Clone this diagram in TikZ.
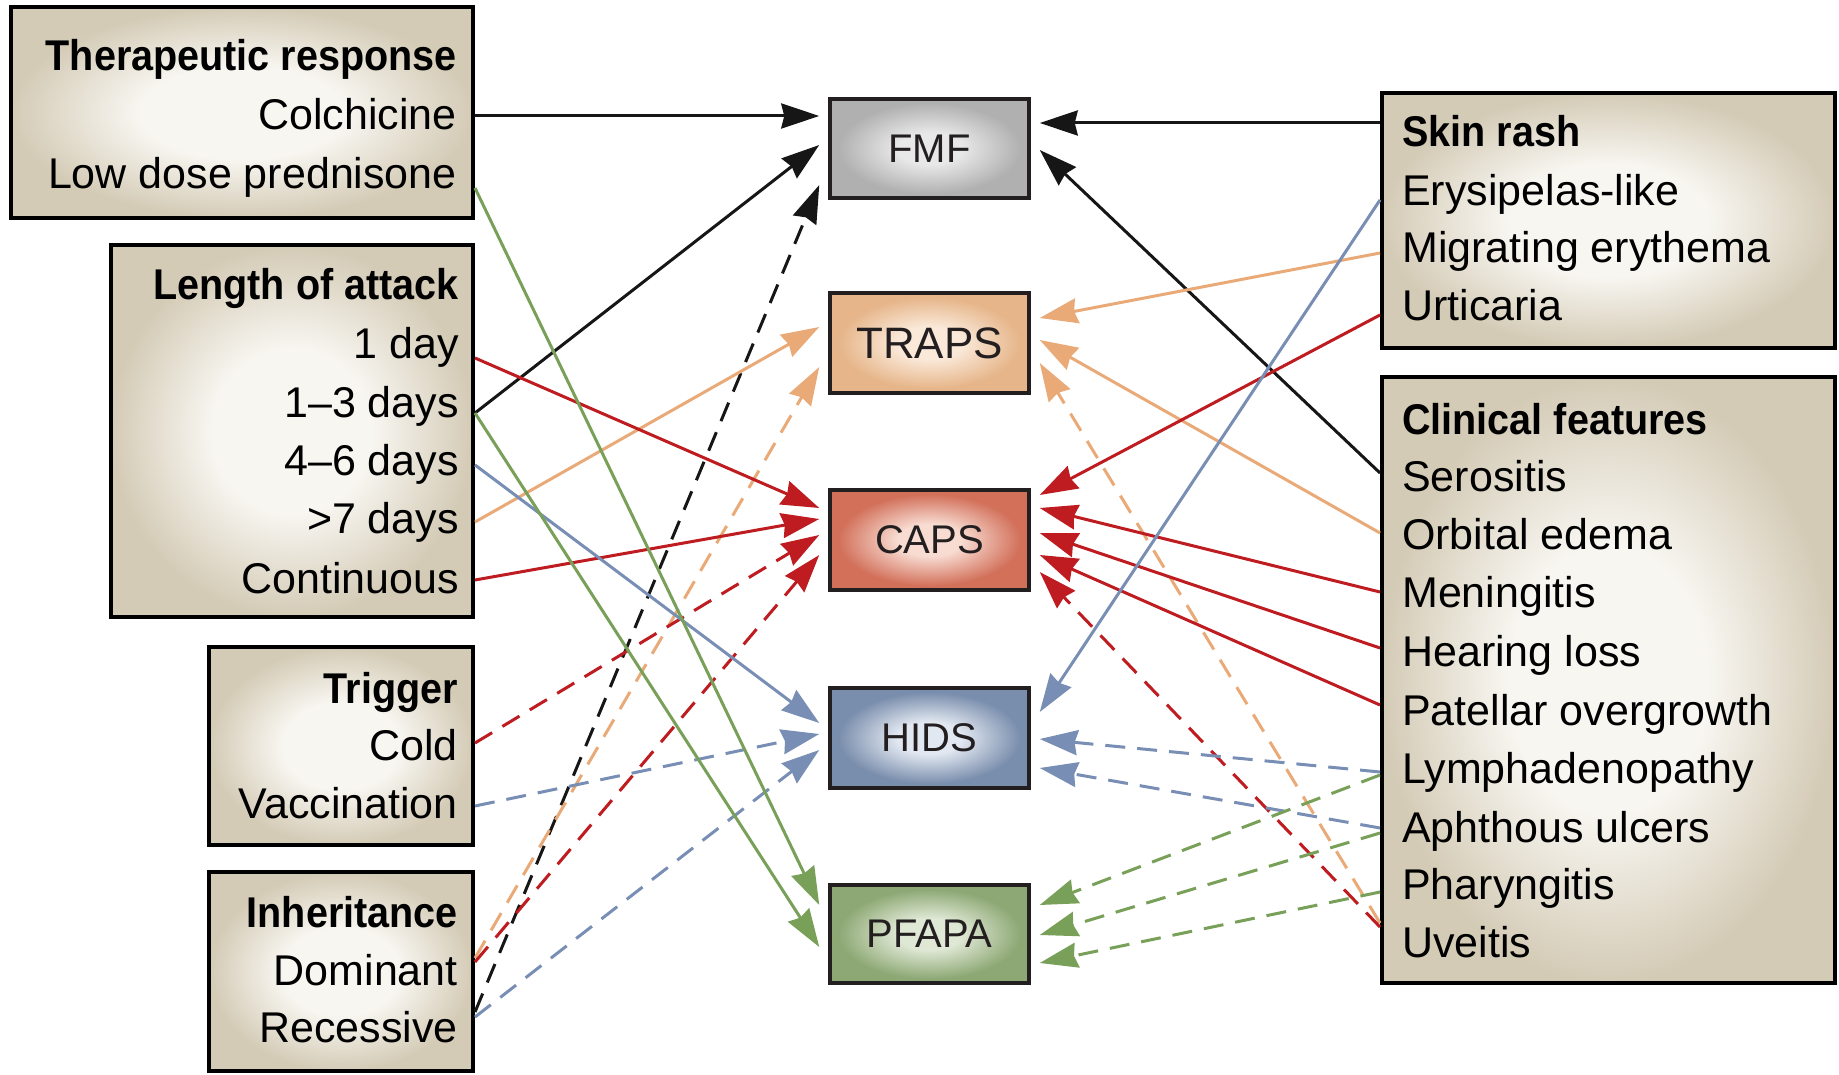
\documentclass[tikz,border=0pt]{standalone}
\usepackage{fontspec}
\setmainfont{Liberation Sans}
\usepackage{graphicx}
\usetikzlibrary{arrows.meta}

\definecolor{beigeOut}{RGB}{212,203,182}
\definecolor{beigeIn}{RGB}{248,246,241}
\definecolor{fmfOut}{RGB}{176,176,176}
\definecolor{fmfIn}{RGB}{232,232,232}
\definecolor{trapsOut}{RGB}{230,181,137}
\definecolor{trapsIn}{RGB}{250,233,217}
\definecolor{capsOut}{RGB}{210,112,90}
\definecolor{capsIn}{RGB}{248,220,210}
\definecolor{hidsOut}{RGB}{121,141,172}
\definecolor{hidsIn}{RGB}{226,232,241}
\definecolor{pfapaOut}{RGB}{141,168,116}
\definecolor{pfapaIn}{RGB}{223,232,213}
\definecolor{boxline}{RGB}{35,31,32}
\definecolor{labelgray}{RGB}{35,31,32}
\definecolor{cblack}{RGB}{22,22,22}
\definecolor{cred}{RGB}{190,28,32}
\definecolor{corange}{RGB}{233,170,120}
\definecolor{cblue}{RGB}{120,142,180}
\definecolor{cgreen}{RGB}{120,160,88}

\pgfdeclareradialshading{shbeige}{\pgfpoint{0bp}{0bp}}{color(0bp)=(beigeIn); color(11bp)=(beigeIn); color(25bp)=(beigeOut); color(50bp)=(beigeOut)}
\pgfdeclareradialshading{shfmf}{\pgfpoint{0bp}{0bp}}{color(0bp)=(fmfIn); color(8bp)=(fmfIn); color(23bp)=(fmfOut); color(50bp)=(fmfOut)}
\pgfdeclareradialshading{shtraps}{\pgfpoint{0bp}{0bp}}{color(0bp)=(trapsIn); color(8bp)=(trapsIn); color(23bp)=(trapsOut); color(50bp)=(trapsOut)}
\pgfdeclareradialshading{shcaps}{\pgfpoint{0bp}{0bp}}{color(0bp)=(capsIn); color(8bp)=(capsIn); color(23bp)=(capsOut); color(50bp)=(capsOut)}
\pgfdeclareradialshading{shhids}{\pgfpoint{0bp}{0bp}}{color(0bp)=(hidsIn); color(8bp)=(hidsIn); color(23bp)=(hidsOut); color(50bp)=(hidsOut)}
\pgfdeclareradialshading{shpfapa}{\pgfpoint{0bp}{0bp}}{color(0bp)=(pfapaIn); color(8bp)=(pfapaIn); color(23bp)=(pfapaOut); color(50bp)=(pfapaOut)}

\newcommand\itemfont{\fontsize{43}{50}\selectfont}
\newcommand\hdtext[1]{\scalebox{0.92}[1]{\bfseries #1}}

\tikzset{
  groupbox/.style={draw=black, line width=4pt, shade, shading=shbeige, inner sep=0pt},
  dxbox/.style={draw=boxline, line width=3.5pt, shade, inner sep=0pt,
    minimum width=199pt, minimum height=99pt, text=labelgray,
    font=\fontsize{40}{48}\selectfont},
  ltxt/.style={anchor=east, inner sep=0pt, text height=30pt, text depth=0pt, font=\itemfont},
  rtxt/.style={anchor=west, inner sep=0pt, text height=30pt, text depth=0pt, font=\itemfont},
  conn/.style={line width=3pt, -{Stealth[length=38pt,width=25pt,inset=3pt]}},
  dsh/.style={dash pattern=on 20pt off 12pt},
}

\begin{document}
\begin{tikzpicture}[x=1pt,y=-1pt]
\useasboundingbox (0,0) rectangle (1839,1075);

% left group boxes
\node[groupbox, minimum width=462pt, minimum height=211pt] (ther) at (242,112.5) {};
\node[groupbox, minimum width=362pt, minimum height=372pt] (len) at (292,431) {};
\node[groupbox, minimum width=264pt, minimum height=198pt] (trig) at (341,746) {};
\node[groupbox, minimum width=264pt, minimum height=199pt] (inh) at (341,971.5) {};

% right group boxes
\node[groupbox, minimum width=453pt, minimum height=255pt] (skin) at (1608.5,220.5) {};
\node[groupbox, minimum width=453pt, minimum height=606pt] (clin) at (1608.5,680) {};

% centre disease boxes
\node[dxbox, shading=shfmf] (fmf) at (929.5,148.5) {FMF};
\node[dxbox, shading=shtraps, minimum height=100pt, font=\fontsize{44}{50}\selectfont] (traps) at (929.5,343) {TRAPS};
\node[dxbox, shading=shcaps, minimum height=100pt] (caps) at (929.5,540) {CAPS};
\node[dxbox, shading=shhids, minimum height=100pt] (hids) at (929.5,738) {HIDS};
\node[dxbox, shading=shpfapa, minimum height=98pt] (pfapa) at (929.5,934) {PFAPA};

\foreach \b in {fmf,traps,caps,hids,pfapa}{
  \coordinate (\b W) at ([xshift=-9pt]\b.west);
  \coordinate (\b E) at ([xshift=9pt]\b.east);
}

% left texts
\node[ltxt] (t1) at (457,56) {\hdtext{Therapeutic response}};
\node[ltxt] (t2) at (457,115) {Colchicine};
\node[ltxt] (t3) at (457,174) {Low dose prednisone};

\node[ltxt] (l1) at (459,285) {\hdtext{Length of attack}};
\node[ltxt] (l2) at (459,343) {1 day};
\node[ltxt] (l3) at (459,402) {1–3 days};
\node[ltxt] (l4) at (459,460) {4–6 days};
\node[ltxt] (l5) at (459,518) {>7 days};
\node[ltxt] (l6) at (459,578) {Continuous};

\node[ltxt] (g1) at (458,688) {\hdtext{Trigger}};
\node[ltxt] (g2) at (458,745) {Cold};
\node[ltxt] (g3) at (458,803) {Vaccination};

\node[ltxt] (h1) at (458,912) {\hdtext{Inheritance}};
\node[ltxt] (h2) at (458,970) {Dominant};
\node[ltxt] (h3) at (458,1027) {Recessive};

% right texts
\node[rtxt] (s1) at (1402,132) {\hdtext{Skin rash}};
\node[rtxt] (s2) at (1402,191) {Erysipelas-like};
\node[rtxt] (s3) at (1402,248) {Migrating erythema};
\node[rtxt] (s4) at (1402,305) {Urticaria};

\node[rtxt] (c1) at (1402,419) {\hdtext{Clinical features}};
\node[rtxt] (c2) at (1402,476) {Serositis};
\node[rtxt] (c3) at (1402,534) {Orbital edema};
\node[rtxt] (c4) at (1402,592) {Meningitis};
\node[rtxt] (c5) at (1402,651) {Hearing loss};
\node[rtxt] (c6) at (1402,710) {Patellar overgrowth};
\node[rtxt] (c7) at (1402,768) {Lymphadenopathy};
\node[rtxt] (c8) at (1402,827) {Aphthous ulcers};
\node[rtxt] (c9) at (1402,884) {Pharyngitis};
\node[rtxt] (c10) at (1402,942) {Uveitis};

% left connectors
\draw[conn,cblack] (ther.east |- 0,116) -- (fmfW |- 0,116);
\draw[conn,cblack] (len.east |- 0,413) -- (fmfW |- 0,145);
\draw[conn,cblack,dsh] (inh.east |- 0,1012) -- (fmfW |- 0,185);
\draw[conn,corange] (len.east |- 0,522) -- (trapsW |- 0,327);
\draw[conn,corange,dsh] (inh.east |- 0,958) -- (trapsW |- 0,367);
\draw[conn,cred] (len.east |- 0,358) -- (capsW |- 0,508);
\draw[conn,cred] (len.east |- 0,580) -- (capsW |- 0,519);
\draw[conn,cred,dsh] (trig.east |- 0,743) -- (capsW |- 0,535);
\draw[conn,cred,dsh] (inh.east |- 0,962) -- (capsW |- 0,555);
\draw[conn,cblue] (len.east |- 0,465) -- (hidsW |- 0,723);
\draw[conn,cblue,dsh] (trig.east |- 0,806) -- (hidsW |- 0,734);
\draw[conn,cblue,dsh] (inh.east |- 0,1017) -- (hidsW |- 0,750);
\draw[conn,cgreen] (ther.east |- 0,188) -- (pfapaW |- 0,905);
\draw[conn,cgreen] (len.east |- 0,413) -- (pfapaW |- 0,947);

% right connectors
\draw[conn,cblack] (skin.west |- 0,123) -- (fmfE |- 0,123);
\draw[conn,cblack] (clin.west |- 0,473) -- (fmfE |- 0,150);
\draw[conn,corange] (skin.west |- 0,253) -- (trapsE |- 0,318);
\draw[conn,corange] (clin.west |- 0,533) -- (trapsE |- 0,340);
\draw[conn,corange,dsh] (clin.west |- 0,923) -- (trapsE |- 0,363);
\draw[conn,cred] (skin.west |- 0,315) -- (capsE |- 0,495);
\draw[conn,cred] (clin.west |- 0,592) -- (capsE |- 0,508);
\draw[conn,cred] (clin.west |- 0,648) -- (capsE |- 0,533);
\draw[conn,cred] (clin.west |- 0,705) -- (capsE |- 0,555);
\draw[conn,cred,dsh] (clin.west |- 0,927) -- (capsE |- 0,572);
\draw[conn,cblue] (skin.west |- 0,200) -- (hidsE |- 0,712);
\draw[conn,cblue,dsh] (clin.west |- 0,772) -- (hidsE |- 0,739);
\draw[conn,cblue,dsh] (clin.west |- 0,828) -- (hidsE |- 0,768);
\draw[conn,cgreen,dsh] (clin.west |- 0,775) -- (pfapaE |- 0,905);
\draw[conn,cgreen,dsh] (clin.west |- 0,833) -- (pfapaE |- 0,935);
\draw[conn,cgreen,dsh] (clin.west |- 0,892) -- (pfapaE |- 0,963);
\end{tikzpicture}
\end{document}
